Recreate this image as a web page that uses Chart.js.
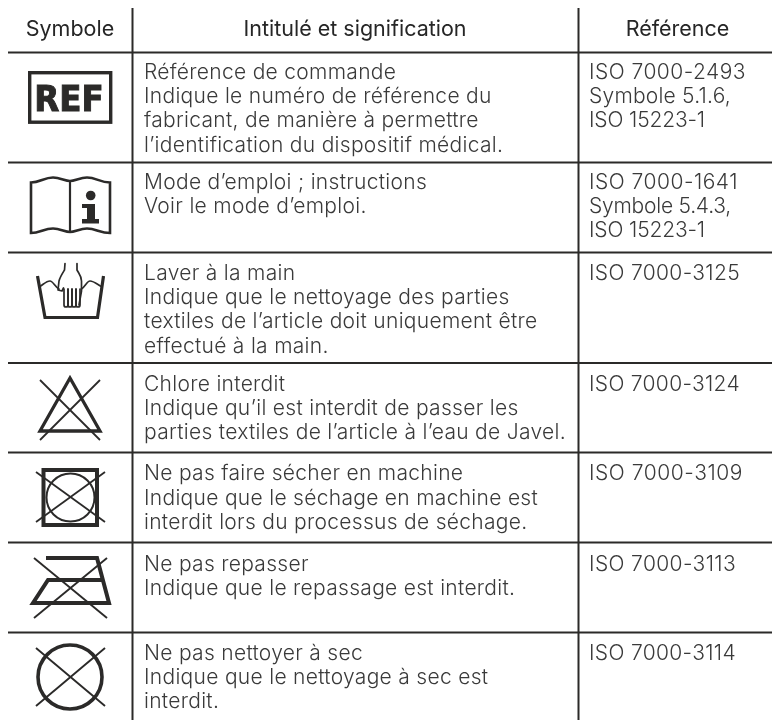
<!DOCTYPE html>
<html lang="fr"><head><meta charset="utf-8">
<script src="https://cdn.jsdelivr.net/npm/chart.js@4"></script>
<style>html,body{margin:0;padding:0;background:#fff}#w{width:772px;height:720px}</style>
</head><body><div id="w"><canvas id="c" width="772" height="720"></canvas></div>
<script>
const headers = ["Symbole", "Intitulé et signification", "Référence"];
const symbols = ["REF", "Mode d’emploi", "Lavage à la main", "Chlore interdit", "Séchage interdit", "Repassage interdit", "Nettoyage à sec interdit"];
const titles = [
  ["Référence de commande","Indique le numéro de référence du","fabricant, de manière à permettre","l’identification du dispositif médical."],
  ["Mode d’emploi ; instructions","Voir le mode d’emploi."],
  ["Laver à la main","Indique que le nettoyage des parties","textiles de l’article doit uniquement être","effectué à la main."],
  ["Chlore interdit","Indique qu’il est interdit de passer les","parties textiles de l’article à l’eau de Javel."],
  ["Ne pas faire sécher en machine","Indique que le séchage en machine est","interdit lors du processus de séchage."],
  ["Ne pas repasser","Indique que le repassage est interdit."],
  ["Ne pas nettoyer à sec","Indique que le nettoyage à sec est","interdit."]
];
const references = [
  ["ISO 7000-2493","Symbole 5.1.6,","ISO 15223-1"],
  ["ISO 7000-1641","Symbole 5.4.3,","ISO 15223-1"],
  ["ISO 7000-3125"],["ISO 7000-3124"],["ISO 7000-3109"],["ISO 7000-3113"],["ISO 7000-3114"]
];
const referenceWidths = [[157,142,116],[149,142,116],[151],[151],[154],[147],[147]];
const rowRules = [52.5,162.5,252.5,363,452.5,542.5,632.5];
const colRules = [132.5,578.5];
const firstBaselines = [79,189,280,391,480.3,570.5,660];
const iconCentres = [98,206,297,408,497,588,677];

const INK = "#2b2a29", TEXT = "#3a3a3a";
const BW = 100, BH = 84;
function icon(cy, draw){
  const c = document.createElement("canvas"); c.width = BW; c.height = BH;
  const g = c.getContext("2d");
  g.translate(BW/2-70, BH/2-cy);
  g.strokeStyle = INK; g.fillStyle = INK; g.lineJoin = "miter"; g.lineCap = "butt";
  draw(g); return c;
}
function line(g,w,pts){g.lineWidth=w;g.beginPath();pts.forEach((p,i)=>i?g.lineTo(p[0],p[1]):g.moveTo(p[0],p[1]));g.stroke();}
function cross(g,w,a,b,c,d){line(g,w,[[a,b],[c,d]]);line(g,w,[[c,b],[a,d]]);}
const icons = [
  icon(iconCentres[0],g=>{
    g.lineWidth=3.4;g.strokeRect(29.7,72.7,81,49.5);
    g.save();g.translate(69,111.3);g.scale(.93,1);
    g.textAlign="center";g.textBaseline="alphabetic";
    g.font="bold 35px 'DejaVu Sans'";g.fillText("REF",0,0);g.lineWidth=1;g.strokeText("REF",0,0);
    g.restore();
  }),
  icon(iconCentres[1],g=>{
    g.lineWidth=2.6;
    g.beginPath();g.moveTo(31,182.5);g.bezierCurveTo(40,182.5,44,177.5,53,177.5);g.bezierCurveTo(60,177.5,65,181,70,181);
    g.bezierCurveTo(75,181,80,177.5,87,177.5);g.bezierCurveTo(96,177.5,100,182.5,110,182.5);
    g.lineTo(110,233);g.bezierCurveTo(100,233,96,228.5,87,228.5);g.bezierCurveTo(80,228.5,75,232,70,232);
    g.bezierCurveTo(65,232,60,228.5,53,228.5);g.bezierCurveTo(44,228.5,40,233,31,233);g.closePath();g.stroke();
    line(g,2.2,[[70,181],[70,232]]);
    g.beginPath();g.arc(90.7,195.5,4.8,0,7);g.fill();
    g.fillRect(82,204,13,4);g.fillRect(87,204,8,18);g.fillRect(82,219,17,4.5);
  }),
  icon(iconCentres[2],g=>{
    line(g,3.2,[[37.5,276],[45,317.5],[97.5,317.5],[103.5,276]]);
    g.lineWidth=1.7;g.lineJoin="round";g.lineCap="round";
    g.beginPath();g.moveTo(39,287);g.bezierCurveTo(43,285,46,281,50,281);g.bezierCurveTo(53,281,55,287,59,289);g.stroke();
    g.beginPath();g.moveTo(102,287);g.bezierCurveTo(98,285,94,281,90,281);g.bezierCurveTo(87,281,85,287,81.5,289);g.stroke();
    g.beginPath();g.moveTo(65,263.5);g.lineTo(64.5,270);g.bezierCurveTo(62,274,60,277,59,281);g.lineTo(58,290);g.lineTo(62,291);g.lineTo(63.5,288);g.stroke();
    g.beginPath();g.moveTo(77,263.5);g.lineTo(77,270);g.bezierCurveTo(79,274,81.5,276,81.5,281);g.lineTo(81.5,291);g.lineTo(79,305);g.stroke();
    [64,68,72,76].forEach(x=>{g.beginPath();g.moveTo(x,289);g.lineTo(x,305);g.arc(x+2,305,2,Math.PI,0,true);g.lineTo(x+4,289);g.stroke();});
  }),
  icon(iconCentres[3],g=>{
    g.lineWidth=3.3;g.beginPath();g.moveTo(70,378);g.lineTo(100,431);g.lineTo(40,431);g.closePath();g.stroke();
    cross(g,1.8,40,380,100,440);
  }),
  icon(iconCentres[4],g=>{
    g.lineWidth=4;g.strokeRect(43.5,470,53.5,55);
    g.lineWidth=2;g.beginPath();g.arc(70.5,497.5,24,0,7);g.stroke();
    cross(g,1.8,36,472,105,522);
  }),
  icon(iconCentres[5],g=>{
    g.lineWidth=4;g.beginPath();g.moveTo(46,558);g.lineTo(97,558);g.lineTo(109,603);g.lineTo(33,603);g.lineTo(48,580);g.lineTo(103,580);g.stroke();
    cross(g,1.9,34,558,107,618);
  }),
  icon(iconCentres[6],g=>{
    g.lineWidth=3.6;g.beginPath();g.arc(70,677,32,0,7);g.stroke();
    cross(g,1.9,36,648,105,706);
  })
];

const rulesH = rowRules.flatMap(y=>[{x:8,y},{x:772,y},{x:null,y:null}]);
const rulesV = colRules.flatMap(x=>[{x,y:8},{x,y:720},{x:null,y:null}]);

const tablePlugin = {
  id:"tableText",
  afterDatasetsDraw(chart){
    const g = chart.ctx, X = chart.scales.x, Y = chart.scales.y;
    g.save();g.textBaseline="alphabetic";
    g.fillStyle="#262626";g.font="400 21.5px Inter";g.textAlign="center";
    g.letterSpacing="0px";
    [70,355,677.5].forEach((x,i)=>g.fillText(headers[i],X.getPixelForValue(x),Y.getPixelForValue(36)));
    g.fillStyle=TEXT;g.font="300 21px Inter";g.textAlign="left";
    g.letterSpacing="0.3px";
    titles.forEach((ls,r)=>ls.forEach((t,i)=>g.fillText(t,X.getPixelForValue(144),Y.getPixelForValue(firstBaselines[r]+i*24.2))));
    references.forEach((ls,r)=>ls.forEach((t,i)=>{
      g.letterSpacing="0px";
      const spare=(referenceWidths[r][i]-g.measureText(t).width)/t.length;
      g.letterSpacing=spare.toFixed(2)+"px";
      g.fillText(t,X.getPixelForValue(589),Y.getPixelForValue(firstBaselines[r]+i*24.2));
    }));
    g.restore();
  }
};

new Chart(document.getElementById("c"),{
  type:"scatter",
  data:{datasets:[
    {label:"Lignes",data:rulesH,showLine:true,pointRadius:0,borderColor:INK,borderWidth:2,spanGaps:false},
    {label:"Colonnes",data:rulesV,showLine:true,pointRadius:0,borderColor:INK,borderWidth:2,spanGaps:false},
    {label:"Symboles",data:iconCentres.map((y,i)=>({x:70,y,name:symbols[i]})),showLine:false,pointRadius:5,pointStyle:icons}
  ]},
  options:{
    responsive:false,animation:false,devicePixelRatio:1,
    layout:{padding:0,autoPadding:false},
    plugins:{legend:{display:false},tooltip:{enabled:false},title:{display:false}},
    scales:{
      x:{type:"linear",min:0,max:772,display:false},
      y:{type:"linear",min:0,max:720,reverse:true,display:false}
    }
  },
  plugins:[tablePlugin]
});
</script></body></html>
